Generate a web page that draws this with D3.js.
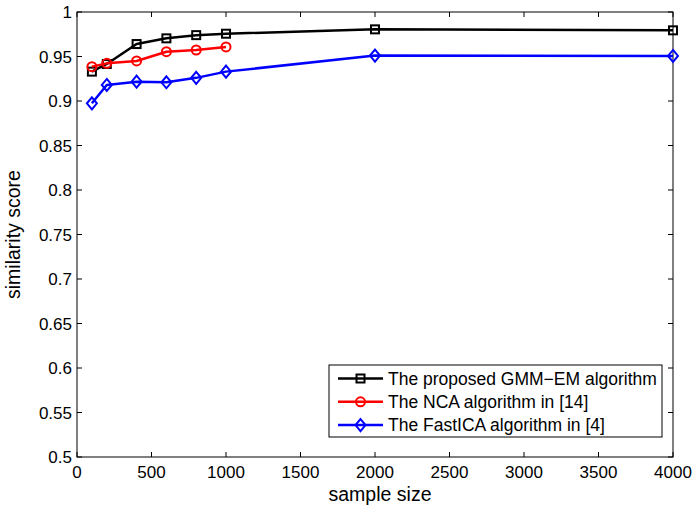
<!DOCTYPE html>
<html>
<head>
<meta charset="utf-8">
<script src="https://cdn.jsdelivr.net/npm/d3@7"></script>
<style>
  body { margin: 0; background: #fff; }
  text { font-family: "Liberation Sans", Arial, sans-serif; }
</style>
</head>
<body>
<div id="screen"></div>
<script>
var width = 693;
var height = 510;
var margin = {left: 77, right: 20, top: 12, bottom: 53};

// data
var sampleSizes = [100, 200, 400, 600, 800, 1000, 2000, 4000];
var gmmScores = [0.933, 0.9416, 0.964, 0.9704, 0.974, 0.9756, 0.9805, 0.9794];
var ncaSizes = [100, 200, 400, 600, 800, 1000];
var ncaScores = [0.9386, 0.9423, 0.945, 0.9554, 0.9573, 0.9607];
var icaScores = [0.8974, 0.918, 0.9217, 0.921, 0.926, 0.933, 0.951, 0.9506];
var xTicks = [0, 500, 1000, 1500, 2000, 2500, 3000, 3500, 4000];
var yTicks = [0.5, 0.55, 0.6, 0.65, 0.7, 0.75, 0.8, 0.85, 0.9, 0.95, 1];
var seriesNames = ["The proposed GMM\u2212EM algorithm", "The NCA algorithm in [14]", "The FastICA algorithm in [4]"];

var series = [
  {name: seriesNames[0], color: "#000", marker: "square",
   pts: sampleSizes.map(function(s, i){ return [s, gmmScores[i]]; })},
  {name: seriesNames[1], color: "#ff0000", marker: "circle",
   pts: ncaSizes.map(function(s, i){ return [s, ncaScores[i]]; })},
  {name: seriesNames[2], color: "#0000ff", marker: "diamond",
   pts: sampleSizes.map(function(s, i){ return [s, icaScores[i]]; })}
];

var svg = d3.select("#screen").append("svg")
  .attr("width", width).attr("height", height);

var x = d3.scaleLinear().domain([0, 4000]).range([margin.left, 673]);
var y = d3.scaleLinear().domain([0.5, 1]).range([457, margin.top]);

var tickLen = 5;
var fmtY = function(d){ return d === 1 ? "1" : String(+d.toFixed(2)); };

// box + inward ticks
var axisG = svg.append("g").attr("stroke", "#000").attr("stroke-width", 1);
axisG.append("rect")
  .attr("x", x(0)).attr("y", y(1))
  .attr("width", x(4000) - x(0)).attr("height", y(0.5) - y(1))
  .attr("fill", "none");

xTicks.forEach(function(t){
  axisG.append("line").attr("x1", x(t)).attr("x2", x(t)).attr("y1", y(0.5)).attr("y2", y(0.5) - tickLen);
  axisG.append("line").attr("x1", x(t)).attr("x2", x(t)).attr("y1", y(1)).attr("y2", y(1) + tickLen);
});
yTicks.forEach(function(t){
  axisG.append("line").attr("x1", x(0)).attr("x2", x(0) + tickLen).attr("y1", y(t)).attr("y2", y(t));
  axisG.append("line").attr("x1", x(4000)).attr("x2", x(4000) - tickLen).attr("y1", y(t)).attr("y2", y(t));
});

svg.selectAll("text.xt").data(xTicks).enter().append("text")
  .attr("class", "xt")
  .attr("x", function(d){ return x(d); })
  .attr("y", 478)
  .attr("text-anchor", "middle")
  .attr("font-size", "17px")
  .text(function(d){ return d; });

svg.selectAll("text.yt").data(yTicks).enter().append("text")
  .attr("class", "yt")
  .attr("x", x(0) - 5)
  .attr("y", function(d){ return y(d) + 6; })
  .attr("text-anchor", "end")
  .attr("font-size", "17px")
  .text(fmtY);

svg.append("text")
  .attr("x", 380).attr("y", 501)
  .attr("text-anchor", "middle").attr("font-size", "19.5px")
  .text("sample size");

svg.append("text")
  .attr("transform", "translate(20," + ((y(0.5) + y(1)) / 2) + ") rotate(-90)")
  .attr("text-anchor", "middle").attr("font-size", "19.5px")
  .text("similarity score");

var line = d3.line().x(function(d){ return x(d[0]); }).y(function(d){ return y(d[1]); });

function drawMarker(g, type, cx, cy, color){
  if(type == "square"){
    g.append("rect").attr("x", cx - 4).attr("y", cy - 4).attr("width", 8).attr("height", 8)
      .attr("fill", "none").attr("stroke", color).attr("stroke-width", 2);
  } else if(type == "circle"){
    g.append("circle").attr("cx", cx).attr("cy", cy).attr("r", 4.5)
      .attr("fill", "none").attr("stroke", color).attr("stroke-width", 2);
  } else {
    g.append("path")
      .attr("d", "M" + cx + "," + (cy - 6) + "L" + (cx + 5) + "," + cy + "L" + cx + "," + (cy + 6) + "L" + (cx - 5) + "," + cy + "Z")
      .attr("fill", "none").attr("stroke", color).attr("stroke-width", 2);
  }
}

series.forEach(function(s){
  var g = svg.append("g");
  g.append("path").datum(s.pts)
    .attr("d", line)
    .attr("fill", "none")
    .attr("stroke", s.color)
    .attr("stroke-width", 2.5)
    .attr("stroke-linejoin", "round");
  s.pts.forEach(function(p){
    drawMarker(g, s.marker, x(p[0]), y(p[1]), s.color);
  });
});

// legend
var lg = svg.append("g");
lg.append("rect").attr("x", 329).attr("y", 365).attr("width", 333).attr("height", 72)
  .attr("fill", "#fff").attr("stroke", "#000").attr("stroke-width", 1);
series.forEach(function(s, i){
  var ly = 378.5 + i * 23.3;
  lg.append("line").attr("x1", 338).attr("x2", 383).attr("y1", ly).attr("y2", ly)
    .attr("stroke", s.color).attr("stroke-width", 2.5);
  drawMarker(lg, s.marker, 360.5, ly, s.color);
  lg.append("text").attr("x", 388).attr("y", ly + 6)
    .attr("font-size", "17.5px")
    .text(s.name);
});
</script>
</body>
</html>
